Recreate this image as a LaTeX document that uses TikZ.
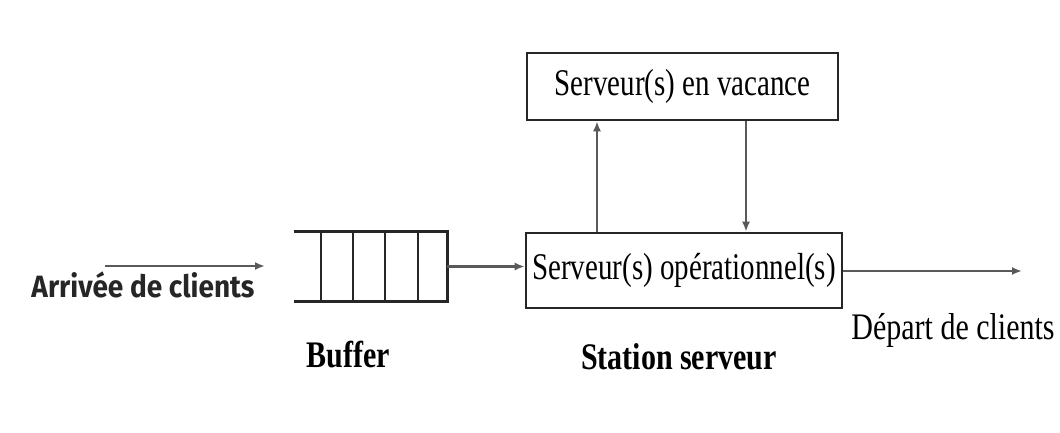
\documentclass[tikz,border=0pt]{standalone}
\usepackage{fontspec}
\setmainfont{Liberation Serif}
\newfontfamily\comicfont{Fira Sans}
\usepackage{tikz}
\usetikzlibrary{arrows.meta}

\begin{document}
\begin{tikzpicture}[x=0.5pt, y=-0.5pt,
		fleche/.style={draw=black!65, line width=1.1pt, -{Latex[length=5pt,width=4pt]}},
		srv/.style={draw=black!85, line width=1.3pt, inner sep=0pt, font=\fontsize{14.5}{16}\selectfont},
		lab/.style={font=\fontsize{15}{17}\selectfont\bfseries}]
		\useasboundingbox (0,0) rectangle (1060,433);
		\coordinate (in) at (105,266);
		\coordinate (inend) at (265,266);
		\coordinate (out) at (1022,271);
		\coordinate (u) at (597,0);
		\coordinate (d) at (746,0);
		% file d'attente
		\node[minimum width=76.5pt, minimum height=34.5pt, inner sep=0pt] (buf) at (370.5,266.5) {};
		\draw[black!85, line width=1.2pt] (buf.north west) -- (buf.north east) -- (buf.south east) -- (buf.south west);
		\foreach \x in {321,353,385,418}
			\draw[black!85, line width=1.2pt] (buf.north west -| \x,0) -- (buf.south west -| \x,0);
		\node[srv, minimum width=158pt, minimum height=37.5pt] (oper) at (684,270.5) {\scalebox{1}[1.3]{Serveur(s) opérationnel(s)}};
		\node[srv, minimum width=155.5pt, minimum height=33.5pt] (vac) at (682.5,86.5) {\scalebox{1}[1.3]{Serveur(s) en vacance}};
		\draw[fleche] (in) -- (inend);
		\draw[fleche] (buf.east) -- (buf.east -| oper.west);
		\draw[fleche] (oper.east |- out) -- (out);
		\draw[fleche] (oper.north -| u) -- (vac.south -| u);
		\draw[fleche] (vac.south -| d) -- (oper.north -| d);
		\node[font=\comicfont\bfseries\fontsize{14}{16}\selectfont, text=black!85] (arr) at (143,285) {\scalebox{1}[1.1]{Arrivée de clients}};
		\node[font=\fontsize{15}{17}\selectfont] (dep) at (953,330) {\scalebox{1}[1.25]{Départ de clients}};
		\node[lab] (bufl) at (348,355) {\scalebox{1}[1.25]{Buffer}};
		\node[lab] (stat) at (679,357) {\scalebox{1}[1.25]{Station serveur}};
	\end{tikzpicture}
\end{document}
